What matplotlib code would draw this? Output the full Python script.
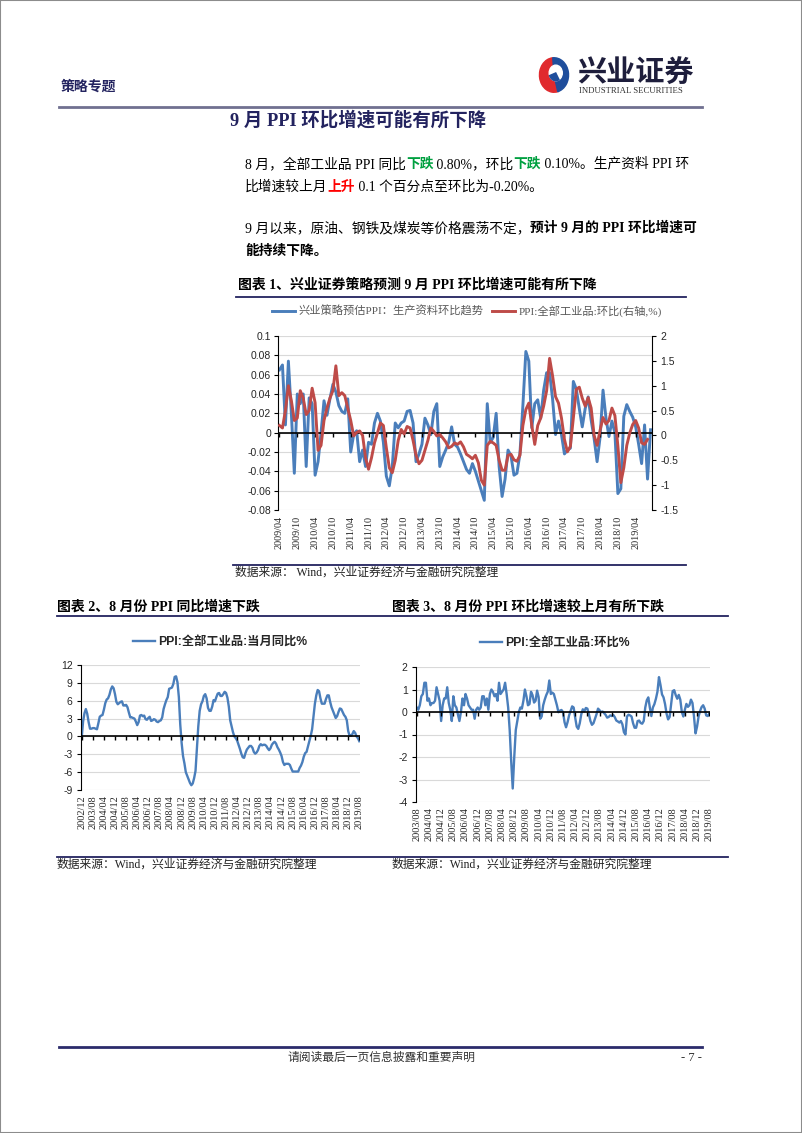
import numpy as np
import matplotlib
matplotlib.use("Agg")
import matplotlib.pyplot as plt
from matplotlib.lines import Line2D
from matplotlib.patches import Rectangle, Wedge, Circle

W, H = 802, 1133
SERIF_CJK = ['Liberation Serif', 'Noto Sans CJK SC']
SANS_CJK = ['Liberation Sans', 'Noto Sans CJK SC']
plt.rcParams['font.family'] = SERIF_CJK

BLUE = '#4A7EBB'
RED = '#BE4B48'
NAVY = '#23235F'
GRID = '#D9D9D9'

# ---- chart 1: 2009/04 .. 2019/09, monthly ----
c1_start = (2009, 4)
c1_blue = [0.065, 0.07, 0.008, 0.074, 0.02, -0.042, 0.04, 0.03, 0.04, -0.035,
           0.036, 0.03, -0.044, -0.03, 0.0, 0.033, 0.018, 0.035, 0.05, 0.042,
           0.028, 0.022, 0.02, 0.035, -0.02, -0.002, 0.002, -0.03, -0.018, -0.035,
           -0.01, -0.012, 0.01, 0.02, 0.012, -0.01, -0.045, -0.055, -0.035, 0.01,
           0.005, 0.01, 0.012, 0.022, 0.023, 0.01, -0.03, -0.022, -0.012, 0.015,
           0.008, -0.002, 0.022, 0.03, -0.035, -0.025, -0.018, -0.01, 0.006, -0.012,
           -0.015, -0.022, -0.03, -0.038, -0.042, -0.032, -0.04, -0.05, -0.06, -0.07,
           0.03, -0.01, -0.005, 0.02, -0.035, -0.066, -0.048, -0.018, -0.024, -0.044,
           -0.042, -0.022, 0.028, 0.084, 0.074, 0.005, 0.03, 0.034, 0.015, 0.044,
           0.062, 0.062, 0.035, -0.002, 0.012, -0.002, -0.022, -0.018, -0.016, 0.053,
           0.045, 0.025, 0.006, 0.025, 0.037, 0.013, -0.006, -0.03, -0.005, 0.044,
           0.015, -0.004, 0.012, 0.0, -0.063, -0.058, 0.017, 0.029, 0.022, 0.016,
           0.006, -0.012, -0.032, 0.008, -0.048, 0.003]

# PPI 环比 (%), 2003/08 .. 2009/03
mom_early = [0.2, 0.1, 0.3, 0.7, 0.8, 1.3, 1.3, 0.5, 0.6, 0.3,
             0.4, 0.4, 0.5, 1.1, 0.8, 0.5, -0.4, 0.3, 0.6, 0.6,
             1.1, 0.4, 0.1, -0.4, 0.7, 0.3, 0.2, -0.1, -0.4, 0.0,
             0.6, 0.3, 0.8, 0.6, 0.3, 0.2, 0.1, 0.1, -0.3, 0.1,
             0.2, 0.1, 0.2, 0.7, 0.7, 0.3, 0.6, 0.1, 0.8, 1.0,
             0.9, 0.7, 0.8, 0.5, 1.3, 0.8, 0.9, 1.0, 1.3, 0.8,
             0.2, -0.8, -2.2, -3.4, -2.0, -0.8, -0.4, 0.0]
# PPI 环比 (%), 2009/04 .. 2019/08
mom_late = [0.2, 0.15, 0.5, 1.0, 0.7, 0.3, 0.35, 0.9, 0.75, 0.42,
            0.5, 0.95, 0.66, -0.3, -0.2, 0.3, 0.55, 0.75, 0.9, 1.4,
            0.8, 0.86, 0.8, 0.55, 0.3, -0.01, 0.06, 0.09, 0.0, -0.45,
            -0.68, -0.45, -0.15, 0.05, 0.25, 0.2, -0.25, -0.65, -0.75, -0.5,
            -0.1, 0.12, 0.03, 0.18, 0.15, -0.1, -0.4, -0.57, -0.5, -0.3,
            -0.1, 0.15, 0.08, -0.01, 0.02, -0.05, -0.13, -0.25, -0.22, -0.15,
            -0.18, -0.13, -0.23, -0.38, -0.42, -0.47, -0.4, -0.55, -0.9, -1.0,
            -0.2, -0.12, -0.15, -0.2, -0.5, -0.7, -0.7, -0.4, -0.38, -0.49,
            -0.52, -0.4, 0.2, 0.52, 0.65, 0.2, -0.18, 0.2, 0.35, 0.59,
            0.9, 1.55, 1.2, 0.78, 0.65, 0.35, -0.08, -0.33, -0.22, 0.35,
            0.93, 0.97, 0.75, 0.59, 0.76, 0.55, 0.0, -0.2, 0.1, 0.36,
            0.23, 0.3, 0.55, 0.4, -0.21, -0.95, -0.65, -0.2, 0.05, 0.22,
            0.3, 0.15, -0.15, -0.18, -0.08]
c3_start = (2003, 8)
c3_mom = mom_early + mom_late

# ---- chart 2: PPI 当月同比 (%), 2002/12 .. 2019/08 ----
c2_start = (2002, 12)
c2_yoy = [-0.2,
          2.5, 3.9, 4.6, 3.8, 2.4, 1.3, 1.3, 1.4, 1.4, 1.3, 1.2, 2.2,
          3.3, 3.5, 3.6, 4.5, 5.6, 6.2, 6.4, 7.0, 7.9, 8.4, 8.1, 7.1,
          5.8, 5.4, 5.6, 5.8, 5.9, 5.2, 5.2, 5.3, 4.9, 4.0, 3.2, 3.2,
          3.1, 3.0, 2.5, 1.9, 2.4, 3.5, 3.6, 3.4, 3.5, 2.9, 2.8, 3.1,
          3.3, 2.6, 2.7, 2.9, 2.8, 2.5, 2.4, 2.6, 2.7, 3.2, 4.6, 5.4,
          6.1, 6.6, 8.0, 8.1, 8.2, 8.8, 10.0, 10.1, 9.1, 6.6, 2.0, -1.1,
          -3.3, -4.5, -6.0, -6.6, -7.2, -7.8, -8.2, -7.9, -7.0, -5.8, -2.1, 1.7,
          4.3, 5.4, 5.9, 6.8, 7.1, 6.4, 4.8, 4.3, 4.3, 5.0, 6.1, 5.9,
          6.6, 7.2, 7.3, 6.8, 6.8, 7.1, 7.5, 7.3, 6.5, 5.0, 2.7, 1.7,
          0.7, 0.0, -0.3, -0.7, -1.4, -2.1, -2.9, -3.5, -3.6, -2.8, -2.2, -1.9,
          -1.6, -1.6, -1.9, -2.6, -2.9, -2.7, -2.3, -1.6, -1.3, -1.5, -1.4, -1.4,
          -1.6, -2.0, -2.3, -2.0, -1.4, -1.1, -0.9, -1.2, -1.8, -2.2, -2.7, -3.3,
          -4.3, -4.8, -4.6, -4.6, -4.6, -4.8, -5.4, -5.9, -5.9, -5.9, -5.9, -5.9,
          -5.3, -4.9, -4.3, -3.4, -2.8, -2.6, -1.7, -0.8, 0.1, 1.2, 3.3, 5.5,
          6.9, 7.8, 7.6, 6.4, 5.5, 5.5, 5.5, 6.3, 6.9, 6.9, 5.8, 4.9,
          4.3, 3.7, 3.1, 3.4, 4.1, 4.7, 4.6, 4.1, 3.6, 3.3, 2.7, 0.9,
          0.1, 0.1, 0.4, 0.9, 0.6, 0.0, -0.3, -0.8]

c1_left_ticks = [-0.08, -0.06, -0.04, -0.02, 0, 0.02, 0.04, 0.06, 0.08, 0.1]
c1_left_labels = ['-0.08', '-0.06', '-0.04', '-0.02', '0', '0.02', '0.04', '0.06', '0.08', '0.1']
c1_right_ticks = [-1.5, -1, -0.5, 0, 0.5, 1, 1.5, 2]
c1_right_labels = ['-1.5', '-1', '-0.5', '0', '0.5', '1', '1.5', '2']
c2_ticks = [-9, -6, -3, 0, 3, 6, 9, 12]
c3_ticks = [-4, -3, -2, -1, 0, 1, 2]


def month_labels(start, n):
    y, m = start
    out = []
    for _ in range(n):
        out.append(f"{y}/{m:02d}")
        m += 1
        if m > 12:
            y, m = y + 1, 1
    return out


fig = plt.figure(figsize=(W / 100, H / 100), dpi=100)
renderer = fig.canvas.get_renderer()


def px_ax(l, t, r, b):
    return fig.add_axes([l / W, 1 - b / H, (r - l) / W, (b - t) / H])


def txt(x, y, s, **kw):
    return fig.text(x / W, 1 - y / H, s, **kw)


def hline(x0, x1, y, color=NAVY, lw=1.3):
    fig.add_artist(Line2D([x0 / W, x1 / W], [1 - y / H, 1 - y / H], color=color, lw=lw))


def width_px(s, **kw):
    a = fig.text(0, 0, 'x' + s + 'x', **kw)
    b = fig.text(0, 0, 'xx', **kw)
    w = a.get_window_extent(renderer).width - b.get_window_extent(renderer).width
    a.remove()
    b.remove()
    return w


def runs(x, y, parts, size=9.9):
    for s, color, weight in parts:
        kw = dict(fontsize=size, fontweight=weight, family=SERIF_CJK)
        txt(x, y, s, color=color, va='center', **kw)
        x += width_px(s, **kw)


# ---- page frame, header, footer ----
fig.add_artist(Rectangle((0, 0), 1, 1, transform=fig.transFigure, fill=False,
                         edgecolor='#8C8C8C', lw=1.5))
txt(61, 87, '策略专题', fontsize=10, color=NAVY, va='center', fontweight='bold')
logo = px_ax(538, 56, 570, 94)
logo.set_xlim(-1.1, 1.1)
logo.set_ylim(-1.1, 1.1)
logo.axis('off')
logo.add_patch(Wedge((0, 0), 1, 95, 285, color='#E02A2E'))
logo.add_patch(Wedge((0, 0), 1, 285, 455, color='#1F4E9C'))
logo.add_patch(Circle((0.12, 0.12), 0.45, color='white'))
logo.add_patch(Wedge((0.12, 0.12), 0.45, 200, 300, color='#1F4E9C'))
txt(577, 73, '兴业证券', fontsize=21, fontweight='bold', color='#1E1E3C', va='center',
    family=['Noto Sans CJK SC'])
txt(579, 91, 'INDUSTRIAL SECURITIES', fontsize=6.3, color='#333333', va='center',
    family=['Liberation Serif'])
hline(59, 702, 107, color='#707090', lw=2)

hline(59, 702, 1047, color='#2B2B6B', lw=2)
txt(381, 1058, '请阅读最后一页信息披露和重要声明', fontsize=8.5, color='#333333',
    ha='center', va='center')
txt(702, 1058, '- 7 -', fontsize=9, color='#333333', ha='right', va='center')

# ---- heading and body ----
txt(230, 120, '9 月 PPI 环比增速可能有所下降', fontsize=13.3, fontweight='bold',
    color=NAVY, va='center')
runs(245, 164, [('8 月，全部工业品 PPI 同比', 'black', 'normal'),
                ('下跌', '#00A040', 'bold'),
                (' 0.80%，环比', 'black', 'normal'),
                ('下跌', '#00A040', 'bold'),
                (' 0.10%。生产资料 PPI 环', 'black', 'normal')])
runs(245, 187, [('比增速较上月', 'black', 'normal'),
                ('上升', '#FF0000', 'bold'),
                (' 0.1 个百分点至环比为-0.20%。', 'black', 'normal')])
runs(245, 228, [('9 月以来，原油、钢铁及煤炭等价格震荡不定，', 'black', 'normal'),
                ('预计 9 月的 PPI 环比增速可', 'black', 'bold')])
runs(245, 251, [('能持续下降。', 'black', 'bold')])


def style_cat_axis(ax, cats, step, ylo, yhi, height_px, size):
    n = len(cats)
    pos = np.arange(0, n, step)
    ax.set_xlim(-0.5, n - 0.5)
    ax.set_xticks(pos)
    ax.set_xticklabels([cats[i] for i in pos], rotation=90, fontsize=size,
                       family=['Liberation Serif'], color='#262626')
    ax.tick_params(axis='x', length=0, pad=4)
    ax.axhline(0, color='black', lw=1.2, zorder=2)
    tick = (yhi - ylo) / height_px * 4
    ax.vlines(pos, -tick, 0, color='black', lw=1, zorder=2)
    for s in ['top', 'right', 'bottom']:
        ax.spines[s].set_visible(False)
    ax.spines['left'].set_color('black')
    ax.grid(axis='y', color=GRID, lw=0.8)
    ax.set_axisbelow(True)


# ---- chart 1 ----
txt(238, 285, '图表 1、兴业证券策略预测 9 月 PPI 环比增速可能有所下降', fontsize=10,
    fontweight='bold', va='center')
hline(236, 686, 297)
ax1 = px_ax(278, 336, 652, 510)
c1_cats = month_labels(c1_start, len(c1_blue))
x1 = np.arange(len(c1_blue))
l1, = ax1.plot(x1, c1_blue, color=BLUE, lw=2.1, solid_joinstyle='round')
ax1.set_ylim(-0.08, 0.1)
ax1.set_yticks(c1_left_ticks)
ax1.set_yticklabels(c1_left_labels, fontsize=7.5, family=['Liberation Sans'], color='#262626')
ax1.tick_params(axis='y', length=3, pad=2)
style_cat_axis(ax1, c1_cats, 6, -0.08, 0.1, 174, 7.3)
ax2 = ax1.twinx()
l2, = ax2.plot(np.arange(len(mom_late)), mom_late, color=RED, lw=2.1, solid_joinstyle='round')
ax2.set_ylim(-1.5, 2)
ax2.set_yticks(c1_right_ticks)
ax2.set_yticklabels(c1_right_labels, fontsize=7.5, family=['Liberation Sans'], color='#262626')
ax2.tick_params(axis='y', length=3, pad=3)
for s in ['top', 'left', 'bottom']:
    ax2.spines[s].set_visible(False)
ax2.spines['right'].set_color('black')
leg_kw = dict(loc='center left', frameon=False, borderpad=0, borderaxespad=0,
              handlelength=2.0, handletextpad=0.35)
fig.legend([l1], ['兴业策略预估PPI：生产资料环比趋势'], bbox_to_anchor=(272 / W, 1 - 311 / H),
           prop=dict(size=8.1, family=SERIF_CJK), labelcolor='#595959', **leg_kw)
fig.legend([l2], ['PPI:全部工业品:环比(右轴,%)'], bbox_to_anchor=(492 / W, 1 - 311 / H),
           prop=dict(size=8.1, family=SERIF_CJK), labelcolor='#595959', **leg_kw)
hline(233, 686, 565)
txt(235, 573, '数据来源： Wind，兴业证券经济与金融研究院整理', fontsize=8.5,
    color='#222222', va='center')

# ---- charts 2 and 3 ----
txt(57, 607, '图表 2、8 月份 PPI 同比增速下跌', fontsize=10, fontweight='bold', va='center')
txt(392, 607, '图表 3、8 月份 PPI 环比增速较上月有所下跌', fontsize=10, fontweight='bold',
    va='center')
hline(57, 728, 616)

ax3 = px_ax(81, 665, 360, 790)
c2_cats = month_labels(c2_start, len(c2_yoy))
l3, = ax3.plot(np.arange(len(c2_yoy)), c2_yoy, color=BLUE, lw=1.7, solid_joinstyle='round')
ax3.set_ylim(-9, 12)
ax3.set_yticks(c2_ticks)
ax3.set_yticklabels([str(v) for v in c2_ticks], fontsize=7.5, family=['Liberation Sans'],
                    color='#262626')
ax3.tick_params(axis='y', length=3, pad=3)
style_cat_axis(ax3, c2_cats, 8, -9, 12, 125, 7.5)
leg_kw2 = dict(loc='center left', frameon=False, borderpad=0, borderaxespad=0,
               handlelength=1.8, handletextpad=0.25)
fig.legend([l3], ['PPI:全部工业品:当月同比%'], bbox_to_anchor=(133 / W, 1 - 642 / H),
           prop=dict(size=8.8, family=SANS_CJK, weight='bold'), labelcolor='#262626', **leg_kw2)

ax4 = px_ax(416, 667, 710, 802)
c3_cats = month_labels(c3_start, len(c3_mom))
l4, = ax4.plot(np.arange(len(c3_mom)), c3_mom, color=BLUE, lw=1.7, solid_joinstyle='round')
ax4.set_ylim(-4, 2)
ax4.set_yticks(c3_ticks)
ax4.set_yticklabels([str(v) for v in c3_ticks], fontsize=7.5, family=['Liberation Sans'],
                    color='#262626')
ax4.tick_params(axis='y', length=3, pad=3)
style_cat_axis(ax4, c3_cats, 8, -4, 2, 135, 7.5)
fig.legend([l4], ['PPI:全部工业品:环比%'], bbox_to_anchor=(480 / W, 1 - 643 / H),
           prop=dict(size=8.8, family=SANS_CJK, weight='bold'), labelcolor='#262626', **leg_kw2)

hline(57, 728, 857)
txt(57, 865, '数据来源：Wind，兴业证券经济与金融研究院整理', fontsize=8.5,
    color='#222222', va='center')
txt(392, 865, '数据来源：Wind，兴业证券经济与金融研究院整理', fontsize=8.5,
    color='#222222', va='center')

fig.savefig('out.png', dpi=100)
